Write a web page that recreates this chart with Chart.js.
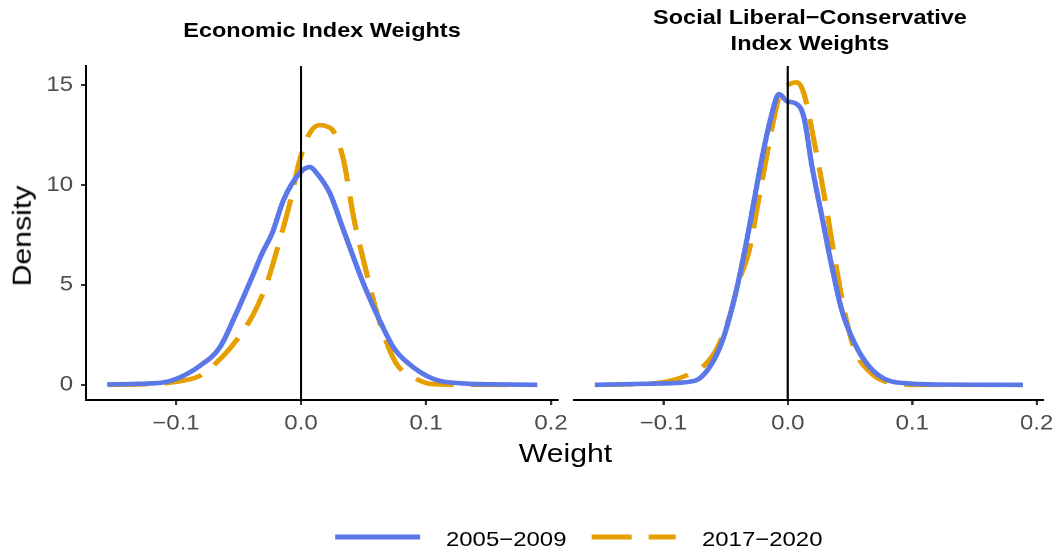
<!DOCTYPE html>
<html>
<head>
<meta charset="utf-8">
<script src="https://cdn.jsdelivr.net/npm/chart.js@4"></script>
<style>
  html, body { margin: 0; padding: 0; background: #fff; }
  body { width: 1060px; height: 551px; overflow: hidden; position: relative;
         font-family: "Liberation Sans", Arial, sans-serif; }
  #stage { position: absolute; left: 0; top: 0; height: 551px; transform-origin: 0 0; }
  .abs { position: absolute; white-space: nowrap; line-height: 1; }
</style>
</head>
<body>
<div id="stage">
  <div id="wrapL" class="abs"><canvas id="econ"></canvas></div>
  <div id="wrapR" class="abs"><canvas id="social"></canvas></div>
</div>
<div id="ylab" class="abs" style="font-size:26.5px;color:#000">Density</div>

<script>
// glyphs in the reference are ~14% wider than Liberation Sans, so the whole stage is stretched
var S = 1.14;

// series labels
var periods = ['2005\u22122009', '2017\u22122020'];
var colors = ['#5A78E7', '#E69F00'];

// economic index, density curves
var econX_0509 = [-0.155, -0.130, -0.110, -0.097, -0.081, -0.065, -0.052, -0.038, -0.031, -0.023, -0.014, -0.001, 0.007, 0.0125, 0.023, 0.034, 0.050, 0.063, 0.074, 0.085, 0.106, 0.130, 0.160, 0.189];
var econY_0509 = [0.02, 0.05, 0.12, 0.37, 0.95, 1.87, 3.55, 5.56, 6.6, 7.6, 9.25, 10.6, 10.9, 10.6, 9.6, 7.74, 5.06, 3.22, 1.87, 1.12, 0.29, 0.07, 0.02, 0.0];
var econX_1720 = [-0.154, -0.130, -0.110, -0.095, -0.081, -0.0675, -0.054, -0.038, -0.0275, -0.017, -0.009, -0.001, 0.007, 0.015, 0.020, 0.026, 0.034, 0.042, 0.050, 0.058, 0.066, 0.0765, 0.090, 0.106, 0.140, 0.1815];
var econY_1720 = [0.0, 0.02, 0.07, 0.2, 0.45, 1.12, 2.04, 3.55, 5.06, 7.24, 9.08, 11.26, 12.6, 13.0, 12.95, 12.68, 11.26, 8.41, 6.23, 4.22, 2.55, 1.04, 0.37, 0.03, 0.0, 0.0];

// social liberal-conservative index, density curves
var socX_0509 = [-0.155, -0.1005, -0.075, -0.063, -0.0525, -0.042, -0.034, -0.027, -0.0205, -0.014, -0.007, -0.0005, 0.006, 0.0128, 0.0195, 0.0275, 0.0355, 0.0435, 0.054, 0.065, 0.078, 0.097, 0.130, 0.189];
var socY_0509 = [0.0, 0.07, 0.2, 0.87, 2.21, 4.56, 6.9, 9.25, 11.42, 13.27, 14.55, 14.19, 14.1, 13.43, 10.92, 8.41, 5.89, 3.72, 2.04, 0.95, 0.29, 0.07, 0.01, 0.0];
var socX_1720 = [-0.155, -0.1085, -0.0925, -0.079, -0.066, -0.0565, -0.047, -0.039, -0.031, -0.0245, -0.018, -0.0125, -0.006, 0.0008, 0.0075, 0.0128, 0.022, 0.030, 0.038, 0.046, 0.054, 0.065, 0.078, 0.105, 0.189];
var socY_1720 = [0.0, 0.07, 0.23, 0.54, 1.04, 1.87, 3.38, 5.23, 6.73, 8.91, 11.09, 12.93, 14.61, 15.03, 15.14, 14.61, 11.92, 9.25, 6.23, 3.55, 1.71, 0.7, 0.17, 0.0, 0.0];

// axes
var xTicks = [-0.1, 0.0, 0.1, 0.2];
var yTicks = [0, 5, 10, 15];
var xMin = -0.172, xMax = 0.2056;
var yMin = -0.76, yMax = 15.96;

function pts(xs, ys) {
  return xs.map(function(x, i) { return { x: x, y: ys[i] }; });
}

function fmtX(v) {
  if (Math.abs(v) < 1e-9) return '0.0';
  return (v < 0 ? '\u2212' : '') + Math.abs(v).toFixed(1);
}

// vertical reference line at weight = 0
var zeroLine = {
  id: 'zeroLine',
  afterDatasetsDraw: function(chart) {
    var ctx = chart.ctx, a = chart.chartArea;
    var px = chart.scales.x.getPixelForValue(0);
    ctx.save();
    ctx.strokeStyle = '#000';
    ctx.lineWidth = 2;
    ctx.beginPath();
    ctx.moveTo(px, a.top);
    ctx.lineTo(px, a.bottom);
    ctx.stroke();
    ctx.restore();
  }
};

var tickFont = { family: '"Liberation Sans", Arial, sans-serif', size: 21 };

function panel(id, series, opts) {
  var ctx = document.getElementById(id);
  return new Chart(ctx, {
    type: 'line',
    data: {
      datasets: series.map(function(s, i) {
        return {
          label: periods[i],
          data: s,
          borderColor: colors[i],
          borderWidth: 4.6,
          borderDash: i === 1 ? [34, 15] : [],
          pointRadius: 0,
          fill: false,
          cubicInterpolationMode: 'monotone'
        };
      })
    },
    options: {
      responsive: true,
      maintainAspectRatio: false,
      animation: false,
      devicePixelRatio: 2,
      layout: { padding: opts.padding },
      plugins: { legend: { display: false }, tooltip: { enabled: false }, title: { display: false } },
      scales: {
        x: {
          type: 'linear',
          min: xMin, max: xMax,
          afterBuildTicks: function(s) { s.ticks = xTicks.map(function(v) { return { value: v }; }); },
          afterFit: function(s) { s.height = 40; },
          border: { display: true, color: '#000', width: 2 },
          grid: { drawOnChartArea: false, drawTicks: true, tickLength: 5, tickColor: '#333', tickWidth: 2 },
          ticks: { font: tickFont, color: '#4D4D4D', padding: 6, maxRotation: 0, callback: fmtX }
        },
        y: {
          display: opts.showY,
          min: yMin, max: yMax,
          afterBuildTicks: function(s) { s.ticks = yTicks.map(function(v) { return { value: v }; }); },
          afterFit: function(s) { s.width = opts.showY ? 86 / S : 0; },
          border: { display: true, color: '#000', width: 2 },
          grid: { drawOnChartArea: false, drawTicks: true, tickLength: 5 / S, tickColor: '#333', tickWidth: 2 },
          ticks: { font: tickFont, color: '#4D4D4D', padding: 8 / S }
        }
      }
    },
    plugins: [zeroLine]
  });
}

// place things in target pixel coordinates inside the stretched stage
var stage = document.getElementById('stage');
stage.style.width = (1060 / S) + 'px';
stage.style.transform = 'scaleX(' + S + ')';

function box(el, x, y, w, h) {
  el.style.left = (x / S) + 'px';
  el.style.top = y + 'px';
  if (w != null) el.style.width = (w / S) + 'px';
  if (h != null) el.style.height = h + 'px';
}

function text(str, cx, top, size, bold, lh) {
  var d = document.createElement('div');
  d.className = 'abs';
  d.style.fontSize = size + 'px';
  d.style.fontWeight = bold ? 'bold' : 'normal';
  d.style.textAlign = 'center';
  d.style.color = '#000';
  if (lh) d.style.lineHeight = lh + 'px';
  d.innerHTML = str;
  box(d, cx - 250, top, 500);
  stage.appendChild(d);
  return d;
}

box(document.getElementById('wrapL'), 0, 0, 600, 440);
box(document.getElementById('wrapR'), 560, 0, 500, 440);

panel('econ', [pts(econX_0509, econY_0509), pts(econX_1720, econY_1720)],
  { showY: true, padding: { top: 66, right: 42 / S, left: 0, bottom: 0 } });
panel('social', [pts(socX_0509, socY_0509), pts(socX_1720, socY_1720)],
  { showY: false, padding: { top: 66, right: 14 / S, left: 14 / S, bottom: 0 } });

// strip titles and axis title
text('Economic Index Weights', 322, 20.3, 20.6, true);
text('Social Liberal\u2212Conservative<br>Index Weights', 810, 3.9, 20.6, true, 26);
text('Weight', 565.5, 440, 26.5, false);

// y axis title, stretched along its own length
var yl = document.getElementById('ylab');
yl.style.left = '22px';
yl.style.top = '236px';
yl.style.transform = 'translate(-50%,-50%) rotate(-90deg) scaleX(' + S + ')';

// legend
function legendKey(x0, x1, color, dash) {
  var ns = 'http://www.w3.org/2000/svg';
  var svg = document.createElementNS(ns, 'svg');
  svg.setAttribute('width', (x1 - x0) / S);
  svg.setAttribute('height', 10);
  svg.setAttribute('class', 'abs');
  svg.style.overflow = 'visible';
  var ln = document.createElementNS(ns, 'line');
  ln.setAttribute('x1', 0); ln.setAttribute('x2', (x1 - x0) / S);
  ln.setAttribute('y1', 5); ln.setAttribute('y2', 5);
  ln.setAttribute('stroke', color);
  ln.setAttribute('stroke-width', 5);
  if (dash) ln.setAttribute('stroke-dasharray', dash);
  svg.appendChild(ln);
  box(svg, x0, 532);
  stage.appendChild(svg);
}
legendKey(335, 420, colors[0], null);
legendKey(592, 676, colors[1], (40 / S) + ' ' + (17 / S));

function legendText(str, x) {
  var d = document.createElement('div');
  d.className = 'abs';
  d.style.fontSize = '21px';
  d.style.color = '#000';
  d.textContent = str;
  box(d, x, 528);
  stage.appendChild(d);
}
legendText(periods[0], 446);
legendText(periods[1], 702);
</script>
</body>
</html>
